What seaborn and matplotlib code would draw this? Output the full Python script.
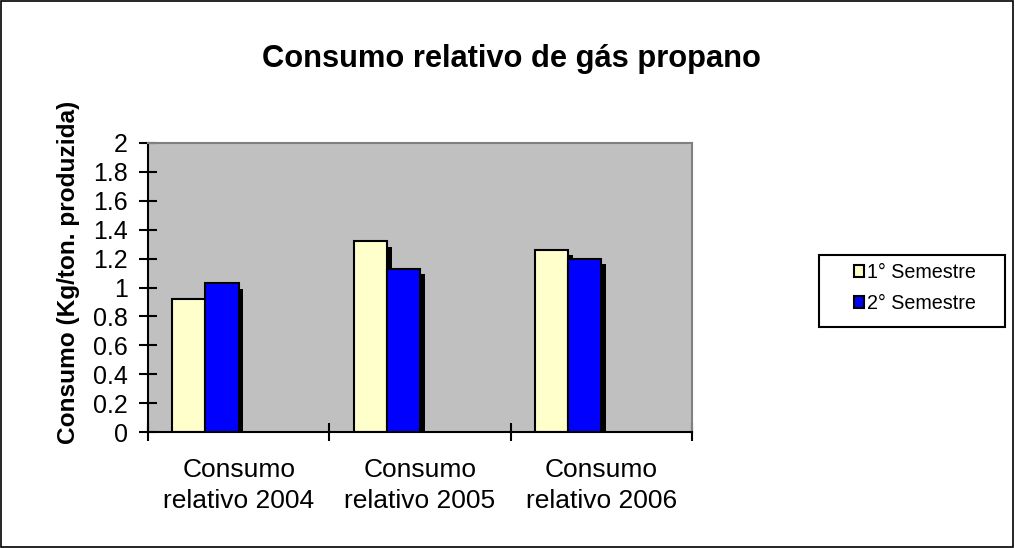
import matplotlib
matplotlib.use("Agg")
import matplotlib.pyplot as plt
import matplotlib.patheffects as pe
from matplotlib.patches import Rectangle, Patch
import seaborn as sns
import pandas as pd
import numpy as np

categories = ["Consumo\nrelativo 2004", "Consumo\nrelativo 2005", "Consumo\nrelativo 2006"]
series_names = ["1° Semestre", "2° Semestre"]
sem1 = [0.92, 1.32, 1.26]
sem2 = [1.03, 1.13, 1.20]
yticks = [0, 0.2, 0.4, 0.6, 0.8, 1, 1.2, 1.4, 1.6, 1.8, 2]
colors = ["#FFFFCC", "#0000FF"]

df = pd.DataFrame({
    "cat": categories * 2,
    "sem": [series_names[0]] * 3 + [series_names[1]] * 3,
    "val": sem1 + sem2,
})

sns.set_theme(style="white")
plt.rcParams["font.family"] = ["Liberation Sans", "DejaVu Sans"]
plt.rcParams.update({"text.color": "black", "axes.labelcolor": "black",
                     "xtick.color": "black", "ytick.color": "black"})

fig = plt.figure(figsize=(10.15, 5.48), dpi=100)
ax = fig.add_axes([148/1015, 1-432/548, (692-148)/1015, (432-143)/548])
ax.set_facecolor("#C0C0C0")

sns.barplot(data=df, x="cat", y="val", hue="sem", hue_order=series_names,
            palette=colors, width=0.366, edgecolor="black", linewidth=1.5,
            ax=ax, legend=False, saturation=1)

shift = -0.183
for p in ax.patches:
    p.set_x(p.get_x() + shift)
    p.set_path_effects([pe.SimplePatchShadow(offset=(3.4, -4.0), shadow_rgbFace="black", alpha=1.0), pe.Normal()])

ax.set_xlim(-0.5, 2.5)
ax.set_ylim(0, 2)
ax.set_yticks(yticks)
ax.set_yticklabels([f"{v:g}" for v in yticks], fontsize=18)
ax.set_xticks(range(3))
ax.set_xticklabels(categories, fontsize=19, linespacing=1.35)
ax.set_xticks([-0.5, 0.5, 1.5, 2.5], minor=True)
ax.tick_params(axis="x", which="major", length=0, pad=19)
ax.tick_params(axis="x", which="minor", direction="inout", length=13, width=1.5, bottom=True)
ax.tick_params(axis="y", which="major", direction="inout", length=13, width=1.5, pad=8, left=True)
ax.set_xlabel("")
ax.set_ylabel("Consumo (Kg/ton. produzida)", fontsize=17.6, fontweight="bold", labelpad=8)
ax.yaxis.set_label_coords(-0.125, 0.553)

for s in ["left", "bottom"]:
    ax.spines[s].set_color("black")
    ax.spines[s].set_linewidth(1.5)
for s in ["top", "right"]:
    ax.spines[s].set_color("#808080")
    ax.spines[s].set_linewidth(1.5)
ax.grid(False)

fig.text(511/1015, 1-59/548, "Consumo relativo de gás propano", ha="center", va="center",
         fontsize=22.2, fontweight="bold")

handles = [Patch(facecolor=c, edgecolor="black", linewidth=1.5) for c in colors]
leg = fig.legend(handles, series_names, loc="center", bbox_to_anchor=(915/1015, 1-288/548),
                 fontsize=14.2, frameon=False, handlelength=0.5, handleheight=0.5,
                 handletextpad=0.15, borderpad=0.3, labelspacing=0.62, borderaxespad=0)

fig.patches.append(Rectangle((819/1015, 1-327/548), (1005-819)/1015, 72/548, transform=fig.transFigure,
                             fill=False, edgecolor="black", linewidth=1.5))
fig.patches.append(Rectangle((0.001, 0.002), 0.997, 0.996, transform=fig.transFigure,
                             fill=False, edgecolor="black", linewidth=1.2))

fig.savefig("out.png", dpi=100)
